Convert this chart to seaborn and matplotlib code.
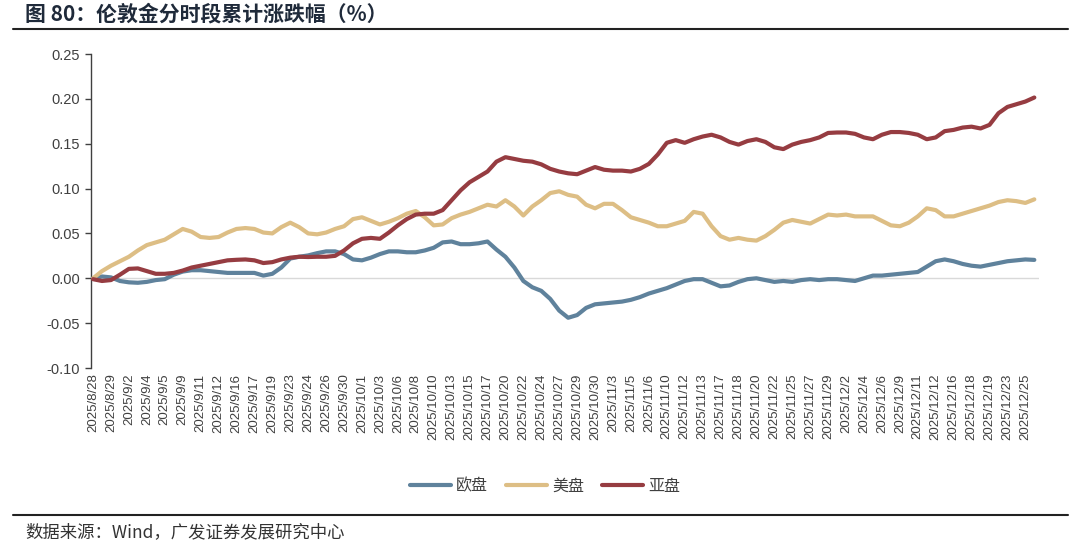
import numpy as np
import pandas as pd
import matplotlib
matplotlib.use("Agg")
import matplotlib.pyplot as plt
import seaborn as sns

# tick labels (every other trading day is labelled)
tick_labels = ["2025/8/28", "2025/8/29", "2025/9/2", "2025/9/4", "2025/9/5", "2025/9/9",
               "2025/9/11", "2025/9/12", "2025/9/16", "2025/9/17", "2025/9/19", "2025/9/23",
               "2025/9/24", "2025/9/26", "2025/9/30", "2025/10/1", "2025/10/3", "2025/10/6",
               "2025/10/8", "2025/10/10", "2025/10/13", "2025/10/15", "2025/10/17", "2025/10/20",
               "2025/10/22", "2025/10/24", "2025/10/27", "2025/10/29", "2025/10/30", "2025/11/3",
               "2025/11/5", "2025/11/6", "2025/11/10", "2025/11/12", "2025/11/13", "2025/11/17",
               "2025/11/18", "2025/11/20", "2025/11/22", "2025/11/25", "2025/11/27", "2025/11/29",
               "2025/12/2", "2025/12/4", "2025/12/6", "2025/12/9", "2025/12/11", "2025/12/12",
               "2025/12/16", "2025/12/18", "2025/12/19", "2025/12/23", "2025/12/25"]

europe = [0.000, 0.002, 0.001, -0.003, -0.0045, -0.005, -0.004, -0.002, -0.001, 0.004,
          0.0075, 0.009, 0.009, 0.008, 0.007, 0.006, 0.006, 0.006, 0.006, 0.003,
          0.005, 0.012, 0.022, 0.024, 0.0255, 0.028, 0.030, 0.030, 0.027, 0.021,
          0.020, 0.023, 0.027, 0.030, 0.030, 0.029, 0.029, 0.031, 0.034, 0.040,
          0.041, 0.038, 0.038, 0.039, 0.041, 0.032, 0.024, 0.012, -0.003, -0.010,
          -0.014, -0.023, -0.036, -0.044, -0.041, -0.033, -0.029, -0.028, -0.027, -0.026,
          -0.024, -0.021, -0.017, -0.014, -0.011, -0.007, -0.003, -0.001, -0.001, -0.005,
          -0.009, -0.008, -0.004, -0.001, 0.000, -0.002, -0.004, -0.003, -0.004, -0.002,
          -0.001, -0.002, -0.001, -0.001, -0.002, -0.003, 0.000, 0.003, 0.003, 0.004,
          0.005, 0.006, 0.007, 0.013, 0.019, 0.021, 0.019, 0.016, 0.014, 0.013,
          0.015, 0.017, 0.019, 0.020, 0.021, 0.0205]

america = [0.000, 0.008, 0.014, 0.019, 0.024, 0.031, 0.037, 0.040, 0.043, 0.049,
           0.055, 0.052, 0.046, 0.045, 0.046, 0.051, 0.055, 0.056, 0.055, 0.051,
           0.050, 0.057, 0.062, 0.057, 0.050, 0.049, 0.051, 0.055, 0.058, 0.066,
           0.068, 0.064, 0.060, 0.063, 0.067, 0.072, 0.075, 0.068, 0.059, 0.060,
           0.067, 0.071, 0.074, 0.078, 0.082, 0.080, 0.087, 0.080, 0.070, 0.080,
           0.087, 0.095, 0.097, 0.093, 0.091, 0.082, 0.078, 0.083, 0.083, 0.076,
           0.068, 0.065, 0.062, 0.058, 0.058, 0.061, 0.064, 0.074, 0.072, 0.058,
           0.047, 0.043, 0.045, 0.043, 0.042, 0.047, 0.054, 0.062, 0.065, 0.063,
           0.061, 0.066, 0.071, 0.070, 0.071, 0.069, 0.069, 0.069, 0.064, 0.059,
           0.058, 0.062, 0.069, 0.078, 0.076, 0.069, 0.069, 0.072, 0.075, 0.078,
           0.081, 0.085, 0.087, 0.086, 0.084, 0.088]

asia = [-0.001, -0.003, -0.002, 0.004, 0.0105, 0.011, 0.008, 0.005, 0.005, 0.006,
        0.0086, 0.012, 0.014, 0.016, 0.018, 0.020, 0.0206, 0.021, 0.020, 0.017,
        0.018, 0.021, 0.023, 0.024, 0.0237, 0.024, 0.024, 0.025, 0.031, 0.039,
        0.044, 0.045, 0.044, 0.051, 0.059, 0.066, 0.071, 0.072, 0.072, 0.076,
        0.087, 0.098, 0.107, 0.113, 0.119, 0.130, 0.135, 0.133, 0.131, 0.130,
        0.127, 0.122, 0.119, 0.117, 0.116, 0.120, 0.124, 0.121, 0.120, 0.120,
        0.119, 0.122, 0.1275, 0.138, 0.151, 0.154, 0.151, 0.155, 0.158, 0.160,
        0.157, 0.152, 0.149, 0.153, 0.155, 0.152, 0.146, 0.144, 0.149, 0.152,
        0.154, 0.157, 0.162, 0.1625, 0.1625, 0.161, 0.157, 0.155, 0.160, 0.163,
        0.163, 0.162, 0.160, 0.155, 0.157, 0.164, 0.1654, 0.168, 0.169, 0.167,
        0.171, 0.184, 0.191, 0.194, 0.197, 0.2015]

series_names = ["欧盘", "美盘", "亚盘"]
colors = ["#5F829C", "#DDBE85", "#963C41"]

n = len(europe)
df = pd.DataFrame({"idx": np.arange(n), "欧盘": europe, "美盘": america, "亚盘": asia})
long = df.melt(id_vars="idx", var_name="series", value_name="value")

sns.set_theme(style="white")
plt.rcParams['font.family'] = ['Noto Sans CJK SC', 'DejaVu Sans']

fig = plt.figure(figsize=(10.8, 5.44), dpi=100)
ax = fig.add_axes([90.8 / 1080, 176 / 544, 948 / 1080, 314 / 544])

ax.axhline(0, color="#d9d9d9", lw=1, zorder=1)
sns.lineplot(data=long, x="idx", y="value", hue="series", hue_order=series_names,
             palette=colors, lw=3.0, ax=ax, legend=True, zorder=3)

ax.set_xlim(-0.25, 105.5)
ax.set_ylim(-0.10, 0.25)
ax.set_yticks(np.arange(-0.10, 0.2501, 0.05))
ax.set_yticklabels([f"{v:.2f}" for v in np.arange(-0.10, 0.2501, 0.05)],
                   fontsize=10.5, color="#404040", family="Liberation Sans")
ax.set_xticks(np.arange(0, n, 2)[:len(tick_labels)])
ax.set_xticklabels(tick_labels, rotation=90, fontsize=9.5, color="#404040",
                   family="Liberation Sans")
ax.set_xlabel("")
ax.set_ylabel("")

for s in ["top", "right", "bottom"]:
    ax.spines[s].set_visible(False)
ax.spines["left"].set_color("#404040")
ax.spines["left"].set_linewidth(1)
ax.tick_params(axis="y", which="major", direction="out", length=4, width=1,
               color="#404040", left=True, pad=4)
ax.tick_params(axis="x", length=0, pad=4)

handles, labels = ax.get_legend_handles_labels()
ax.legend(handles, labels, loc="center", bbox_to_anchor=(545 / 1080, 1 - 486 / 544),
          bbox_transform=fig.transFigure, ncol=3, frameon=False, fontsize=11.5,
          handlelength=2.6, columnspacing=1.1, handletextpad=0.3,
          labelcolor="#404040")

# title, rules and source note
fig.text(25 / 1080, 1 - 14 / 544, "图 80：伦敦金分时段累计涨跌幅（%）", fontsize=15,
         fontweight="bold", color="#1F2A3A", va="center", ha="left")
fig.add_artist(plt.Line2D([13 / 1080, 1068 / 1080], [1 - 29 / 544, 1 - 29 / 544],
                          color="#222222", lw=1.5))
fig.add_artist(plt.Line2D([13 / 1080, 1068 / 1080], [1 - 515 / 544, 1 - 515 / 544],
                          color="#222222", lw=1.5))
fig.text(25 / 1080, 1 - 532 / 544, "数据来源：Wind，广发证券发展研究中心", fontsize=12.5,
         color="#333333", va="center", ha="left")

fig.savefig("out.png", dpi=100)
